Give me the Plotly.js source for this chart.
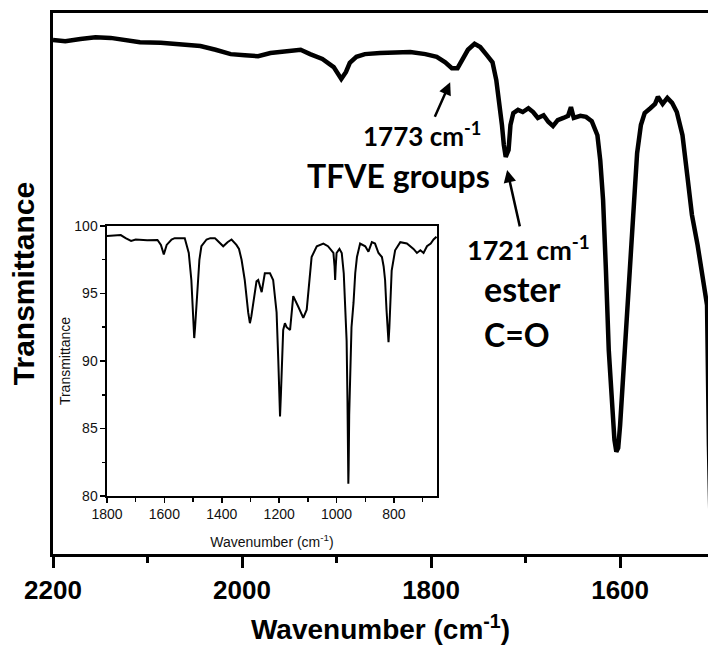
<!DOCTYPE html>
<html>
<head>
<meta charset="utf-8">
<script src="https://cdn.plot.ly/plotly-3.0.1.min.js"></script>
<style>
html,body{margin:0;padding:0;background:#fff;}
#chart{width:708px;height:654px;}
</style>
</head>
<body>
<div id="chart"></div>
<script>
// Main spectrum (wavenumber, cm-1) and transmittance (arbitrary units)
var mainWavenumber = [2200,2187,2171,2155,2139,2123,2108,2086,2065,2044,2028,2012,1997,1983,1970,1954,1938,1928,1915,1903,1895,1890,1886,1879,1870,1854,1838,1822,1806,1794,1785,1778,1772,1766,1761,1754,1748,1741,1735,1731,1728,1725,1723,1721,1718,1716,1713,1708,1703,1697,1692,1687,1681,1676,1671,1666,1660,1655,1652,1649,1642,1636,1630,1624,1621,1618,1615,1612,1608,1606,1604,1602,1600,1597,1594,1589,1585,1582,1578,1574,1568,1563,1560,1555,1550,1545,1540,1534,1529,1524,1518,1513,1508,1506,1504];
var mainTransmittance = [95.0,94.8,95.2,95.5,95.4,95.0,94.6,94.5,94.3,93.9,93.2,92.4,92.2,92.0,92.6,93.0,93.2,92.4,91.5,90.0,87.8,89.1,90.8,91.9,92.4,92.6,92.8,92.8,92.4,91.9,90.9,89.8,89.8,91.9,93.2,94.3,93.7,92.2,90.9,87.6,83.9,79.3,75.6,73.4,74.7,79.3,81.5,82.1,81.7,82.4,81.7,80.6,81.1,79.9,79.1,80.2,80.6,81.0,82.6,80.6,81.0,80.8,80.0,77.4,72.8,65.4,52.5,37.7,26.6,21.1,18.9,19.6,23.8,32.2,43.3,56.2,68.2,74.1,79.3,81.5,82.4,83.2,84.5,83.2,84.3,83.4,81.7,77.4,70.1,62.7,57.1,51.0,46.0,20.0,3.0];

// Inset spectrum
var insetWavenumber = [1800,1775,1752,1735,1716,1700,1660,1624,1612,1602,1592,1575,1564,1529,1515,1506,1500,1496,1493,1488,1483,1478,1471,1453,1440,1424,1419,1405,1395,1380,1366,1349,1340,1331,1320,1308,1302,1297,1291,1279,1273,1267,1261,1250,1232,1221,1215,1209,1203,1199,1197,1194,1190,1186,1180,1174,1162,1151,1133,1116,1104,1093,1087,1069,1046,1030,1017,1011,1007,1005,1003,1000,990,982,975,970,965,962,960,959,958,956,952,948,941,935,929,918,900,889,877,866,854,842,836,831,826,822,819,816,813,808,796,778,755,732,720,708,697,685,672,662,652];
var insetTransmittance = [99.26,99.3,99.33,99.1,98.9,99.0,98.95,98.96,98.6,97.9,98.6,99.0,99.1,99.1,98.0,96.0,93.5,91.7,92.5,94.5,95.8,97.5,98.5,99.0,99.1,99.1,99.0,98.7,98.5,98.8,99.0,98.6,98.3,97.5,96.0,93.6,92.8,93.3,94.3,95.9,96.0,95.5,95.1,96.5,96.5,96.0,95.0,93.6,90.0,87.0,85.9,87.5,90.0,92.3,92.8,92.5,92.3,94.8,94.0,93.2,93.8,96.7,97.7,98.5,98.7,98.5,98.1,98.0,97.0,96.0,97.0,98.0,98.3,98.0,96.5,94.3,91.5,87.0,83.0,80.9,82.0,86.0,90.0,92.5,94.3,96.5,97.7,98.7,98.5,98.1,98.8,98.7,98.0,97.7,97.0,96.0,93.8,92.0,91.4,92.5,94.5,96.7,98.2,98.8,98.7,98.3,98.0,98.2,98.0,98.5,98.7,99.0,99.2];

var mainTickVals = [2200,2000,1800,1600];
var insetXTickVals = [1800,1600,1400,1200,1000,800];
var insetYTickVals = [80,85,90,95,100];

var arial = 'Liberation Sans, Arial, sans-serif';
var calib = 'Lato, Open Sans, sans-serif';

var traces = [
  {x: mainWavenumber, y: mainTransmittance, type:'scatter', mode:'lines',
   line:{color:'#000', width:4.5}, xaxis:'x', yaxis:'y', hoverinfo:'skip', showlegend:false},
  {x: insetWavenumber, y: insetTransmittance, type:'scatter', mode:'lines',
   line:{color:'#000', width:2}, xaxis:'x2', yaxis:'y2', hoverinfo:'skip', showlegend:false}
];

var annFont = {family: calib, color:'#000', weight:700};
var layout = {
  width:708, height:654,
  margin:{l:53, r:0, t:13, b:100},
  paper_bgcolor:'#fff', plot_bgcolor:'rgba(0,0,0,0)',
  showlegend:false,
  xaxis:{
    range:[2200,1507], showline:true, linewidth:3, linecolor:'#000', mirror:true,
    showgrid:false, zeroline:false,
    ticks:'outside', ticklen:11, tickwidth:3, tickcolor:'#000',
    tickvals: mainTickVals,
    tickfont:{family:arial, size:26, color:'#000', weight:700},
    minor:{dtick:100, ticks:'outside', ticklen:6, tickwidth:3, tickcolor:'#000'},
    title:{text:'Wavenumber (cm<sup>-1</sup>)', font:{family:arial, size:28, color:'#000', weight:700}, standoff:16}
  },
  yaxis:{
    range:[0,100], showline:true, linewidth:3, linecolor:'#000', mirror:false,
    showgrid:false, zeroline:false, ticks:'', showticklabels:false,
    title:{text:'Transmittance', font:{family:arial, size:30, color:'#000', weight:700}, standoff:7}
  },
  xaxis2:{
    domain:[0.0824,0.5863], anchor:'y2', range:[1800,650],
    showline:true, linewidth:1.5, linecolor:'#000', mirror:true,
    showgrid:false, zeroline:false,
    ticks:'outside', ticklen:5, tickwidth:1.5, tickcolor:'#000',
    tickvals: insetXTickVals,
    tickfont:{family:arial, size:14, color:'#111'},
    minor:{dtick:100, ticks:'outside', ticklen:4, tickwidth:1.5, tickcolor:'#000'},
    title:{text:'Wavenumber (cm<sup>-1</sup>)', font:{family:arial, size:14, color:'#111'}, standoff:16}
  },
  yaxis2:{
    domain:[0.1072,0.6063], anchor:'x2', range:[80,100],
    showline:true, linewidth:1.5, linecolor:'#000', mirror:true,
    showgrid:false, zeroline:false,
    ticks:'outside', ticklen:5, tickwidth:1.5, tickcolor:'#000',
    tickvals: insetYTickVals,
    tickfont:{family:arial, size:14, color:'#111'},
    minor:{dtick:2.5, ticks:'outside', ticklen:3, tickwidth:1.5, tickcolor:'#000'},
    title:{text:'Transmittance', font:{family:arial, size:14, color:'#111'}, standoff:0}
  },
  annotations:[
    {x:1779.8, y:87.2, xref:'x', yref:'y', ax:-16, ay:36, text:'', showarrow:true,
     arrowhead:2, arrowsize:1, arrowwidth:2.5, arrowcolor:'#000', standoff:0},
    {x:1719.5, y:71.0, xref:'x', yref:'y', ax:13, ay:58, text:'', showarrow:true,
     arrowhead:2, arrowsize:1, arrowwidth:2.5, arrowcolor:'#000', standoff:0},
    {x:1809.3, y:74.1, xref:'x', yref:'y', text:'1773 cm<sup>-1</sup>', showarrow:false,
     xanchor:'center', yanchor:'bottom', borderpad:0, font:Object.assign({size:26}, annFont)},
    {x:1834.7, y:73.7, xref:'x', yref:'y', text:'TFVE groups', showarrow:false,
     xanchor:'center', yanchor:'top', borderpad:0, font:Object.assign({size:32}, annFont)},
    {x:1697.3, y:56.6, xref:'x', yref:'y', text:'1721 cm<sup>-1</sup>', showarrow:false,
     xanchor:'center', yanchor:'middle', font:Object.assign({size:27}, annFont)},
    {x:1745.9, y:49.0, xref:'x', yref:'y', text:'ester', showarrow:false,
     xanchor:'left', yanchor:'middle', font:Object.assign({size:34}, annFont)},
    {x:1745.9, y:40.5, xref:'x', yref:'y', text:'C=O', showarrow:false,
     xanchor:'left', yanchor:'middle', font:Object.assign({size:32}, annFont)}
  ]
};

Plotly.newPlot('chart', traces, layout, {displayModeBar:false, staticPlot:true});
</script>
</body>
</html>
